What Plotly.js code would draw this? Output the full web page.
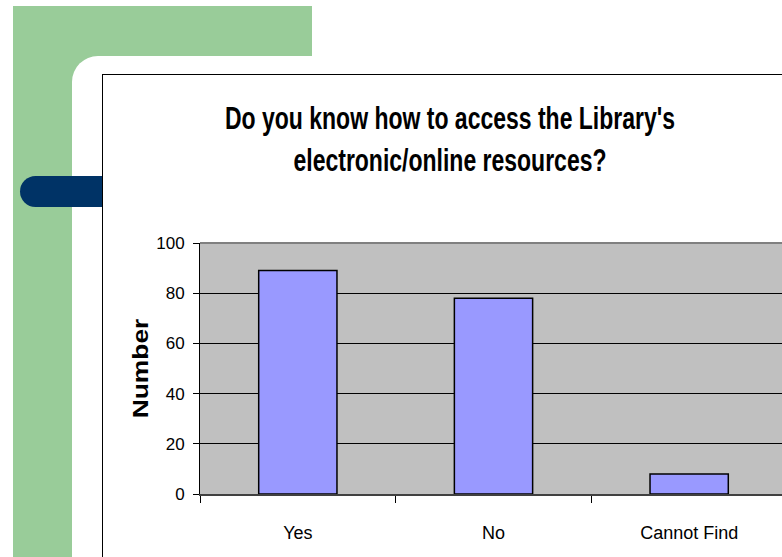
<!DOCTYPE html>
<html>
<head>
<meta charset="utf-8">
<script src="https://cdn.plot.ly/plotly-3.0.1.min.js"></script>
<style>
  html, body { margin: 0; padding: 0; width: 782px; height: 557px; overflow: hidden; background: #fff; }
  #green { position: absolute; left: 13px; top: 6px; width: 299px; height: 560px; background: #99CC99; }
  #whitecut { position: absolute; left: 72px; top: 56px; width: 800px; height: 600px; background: #fff; border-top-left-radius: 26px; }
  #pill { position: absolute; left: 20px; top: 176px; width: 100px; height: 31px; background: #003366; border-radius: 16px 0 0 16px; }
  #box { position: absolute; left: 102px; top: 74px; width: 800px; height: 600px; background: #fff; border: 1.5px solid #000; }
  #chart { position: absolute; left: 0; top: 0; width: 800px; height: 557px; }
</style>
</head>
<body>
<div id="green"></div>
<div id="whitecut"></div>
<div id="pill"></div>
<div id="box"></div>
<div id="chart"></div>
<script>
const categories = ["Yes", "No", "Cannot Find"];
const counts = [89, 78, 8];
const yTicks = [0, 20, 40, 60, 80, 100];
const chartTitle = "Do you know how to access the Library's<br>electronic/online resources?";
const yTitle = "Number";

const trace = {
  type: "bar",
  x: categories,
  y: counts,
  width: 0.4,
  marker: { color: "#9999FF", line: { color: "#000000", width: 1.5 } },
  hoverinfo: "x+y"
};

const layout = {
  width: 800,
  height: 557,
  paper_bgcolor: "rgba(0,0,0,0)",
  plot_bgcolor: "#C0C0C0",
  margin: { l: 200, r: 13, t: 243, b: 63, pad: 0 },
  showlegend: false,
  font: { family: "Liberation Sans, Arial, sans-serif", color: "#000" },
  title: {
    text: chartTitle,
    font: { family: "Liberation Sans, Arial, sans-serif", size: 23, weight: 700, color: "#000" },
    xref: "container", x: 450 / 800, xanchor: "center",
    yref: "container", y: 1 - 100 / 557, yanchor: "top"
  },
  xaxis: {
    type: "category",
    showgrid: false,
    ticks: "outside",
    tickson: "boundaries",
    ticklen: 7,
    tickcolor: "#000",
    tickwidth: 1,
    showline: true,
    linecolor: "#404040",
    linewidth: 2,
    tickfont: { size: 18, color: "#000" },
    ticklabelstandoff: 21,
    zeroline: false
  },
  yaxis: {
    range: [0, 100],
    tickvals: yTicks,
    ticktext: yTicks.map(String),
    showgrid: true,
    gridcolor: "#000",
    gridwidth: 1,
    ticks: "outside",
    ticklen: 6,
    tickcolor: "#000",
    showline: true,
    linecolor: "#000",
    linewidth: 1,
    zeroline: false,
    tickfont: { size: 17, color: "#000" },
    ticklabelstandoff: 5,
    title: {
      text: yTitle,
      font: { size: 22, weight: 700, color: "#000" },
      standoff: 1
    }
  },
  shapes: [
    { type: "line", xref: "paper", yref: "paper", x0: 0, x1: 1, y0: 1, y1: 1,
      line: { color: "#808080", width: 2 }, layer: "above" }
  ]
};

Plotly.newPlot("chart", [trace], layout, { displayModeBar: false, staticPlot: true }).then(function (gd) {
  const t = gd.querySelector(".gtitle");
  if (t) {
    const bb = t.getBBox();
    const cy = bb.y + bb.height / 2;
    const target = 139;
    const s = 1.38;
    t.setAttribute("transform", "translate(0," + target + ") scale(1," + s + ") translate(0," + (-cy) + ")");
  }
  const yt = gd.querySelector(".ytitle");
  if (yt) {
    const cy = parseFloat(yt.getAttribute("y"));
    const prev = yt.getAttribute("transform") || "";
    yt.setAttribute("transform", "translate(0," + cy + ") scale(1,1.2) translate(0," + (-cy) + ") " + prev);
  }
});
</script>
</body>
</html>
